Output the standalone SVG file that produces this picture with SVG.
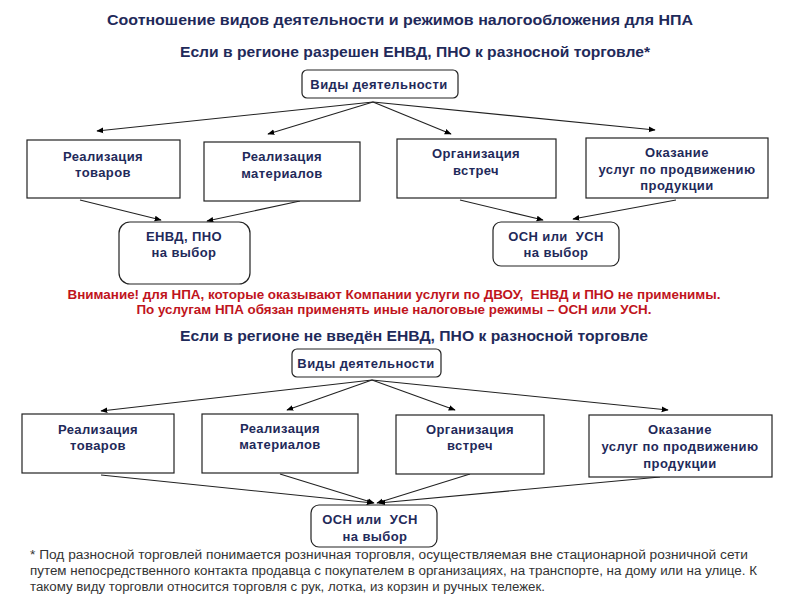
<svg xmlns="http://www.w3.org/2000/svg" width="800" height="600" viewBox="0 0 800 600">
<defs>
<marker id="ah" viewBox="0 0 10 10" refX="9" refY="5" markerWidth="7" markerHeight="7" orient="auto" markerUnits="userSpaceOnUse">
<path d="M0,1 L10,5 L0,9 z" fill="#000"/>
</marker>
<style>
.t{font-family:"Liberation Sans",Arial,sans-serif;font-weight:bold;fill:#1f2a5a;text-anchor:middle}
.h{font-size:15px}
.n{font-size:13px;letter-spacing:0.4px}
.r{font-family:"Liberation Sans",Arial,sans-serif;font-weight:bold;font-size:13px;fill:#c0141c;text-anchor:middle}
.f{font-family:"Liberation Sans",Arial,sans-serif;font-size:12px;fill:#333}
.box{fill:#fff;stroke:#222;stroke-width:1.2}
.c{stroke:#222;stroke-width:1.1;fill:none;marker-end:url(#ah)}
</style>
</defs>
<rect width="800" height="600" fill="#fff"/>
<text class="t h" x="400" y="25" textLength="586" lengthAdjust="spacingAndGlyphs">Соотношение видов деятельности и режимов налогообложения для НПА</text>
<text class="t h" x="415" y="57" textLength="470" lengthAdjust="spacingAndGlyphs">Если в регионе разрешен ЕНВД, ПНО к разносной торговле*</text>

<g id="connectors">
<line class="c" x1="373" y1="102" x2="97" y2="131"/>
<line class="c" x1="373" y1="102" x2="268" y2="134"/>
<line class="c" x1="373" y1="102" x2="451" y2="134"/>
<line class="c" x1="373" y1="102" x2="655" y2="130"/>
<line class="c" x1="80" y1="200" x2="161" y2="220"/>
<line class="c" x1="300" y1="201" x2="207" y2="221"/>
<line class="c" x1="460" y1="200" x2="543" y2="220"/>
<line class="c" x1="676" y1="200" x2="573" y2="219"/>
<line class="c" x1="372" y1="380" x2="101" y2="411"/>
<line class="c" x1="372" y1="380" x2="287" y2="410"/>
<line class="c" x1="372" y1="380" x2="455" y2="410"/>
<line class="c" x1="372" y1="380" x2="668" y2="410"/>
<line class="c" x1="101" y1="475" x2="373" y2="503"/>
<line class="c" x1="280" y1="474" x2="374" y2="503"/>
<line class="c" x1="470" y1="474" x2="377" y2="503"/>
<line class="c" x1="660" y1="477" x2="379" y2="503"/>
</g>

<g id="vidy1"><rect class="box" x="302" y="70" width="156" height="28" rx="5"/><text class="t n" x="379" y="89">Виды деятельности</text></g>
<g id="top1"><rect class="box" x="27" y="140" width="153" height="58"/><text class="t n" x="103" y="161">Реализация</text><text class="t n" x="103" y="177">товаров</text></g>
<g id="top2"><rect class="box" x="204" y="142" width="156" height="59"/><text class="t n" x="282" y="161">Реализация</text><text class="t n" x="282" y="178">материалов</text></g>
<g id="top3"><rect class="box" x="397" y="139" width="159" height="59"/><text class="t n" x="476" y="158">Организация</text><text class="t n" x="476" y="175">встреч</text></g>
<g id="top4"><rect class="box" x="586" y="138" width="182" height="60"/><text class="t n" x="677" y="157">Оказание</text><text class="t n" x="677" y="174">услуг по продвижению</text><text class="t n" x="677" y="190">продукции</text></g>
<g id="envd"><rect class="box" x="119" y="222" width="131" height="62" rx="11"/><text class="t n" x="184" y="241">ЕНВД, ПНО</text><text class="t n" x="184" y="257">на выбор</text></g>
<g id="osn1"><rect class="box" x="493" y="222" width="126" height="44" rx="8"/><text class="t n" x="556" y="241">ОСН или&#160; УСН</text><text class="t n" x="556" y="257">на выбор</text></g>

<text class="r" x="394" y="299" textLength="653" lengthAdjust="spacingAndGlyphs">Внимание! для НПА, которые оказывают Компании услуги по ДВОУ,&#160; ЕНВД и ПНО не применимы.</text>
<text class="r" x="394" y="314" textLength="515" lengthAdjust="spacingAndGlyphs">По услугам НПА обязан применять иные налоговые режимы – ОСН или УСН.</text>
<text class="t h" x="414" y="341" textLength="468" lengthAdjust="spacingAndGlyphs">Если в регионе не введён ЕНВД, ПНО к разносной торговле</text>

<g id="vidy2"><rect class="box" x="292" y="349" width="149" height="28" rx="5"/><text class="t n" x="366" y="368">Виды деятельности</text></g>
<g id="bot1"><rect class="box" x="22" y="414" width="152" height="59"/><text class="t n" x="98" y="434">Реализация</text><text class="t n" x="98" y="450">товаров</text></g>
<g id="bot2"><rect class="box" x="202" y="414" width="156" height="59"/><text class="t n" x="280" y="433">Реализация</text><text class="t n" x="280" y="449">материалов</text></g>
<g id="bot3"><rect class="box" x="396" y="415" width="148" height="59"/><text class="t n" x="470" y="434">Организация</text><text class="t n" x="470" y="450">встреч</text></g>
<g id="bot4"><rect class="box" x="589" y="415" width="183" height="62"/><text class="t n" x="680" y="434">Оказание</text><text class="t n" x="680" y="451">услуг по продвижению</text><text class="t n" x="680" y="468">продукции</text></g>
<g id="osn2"><rect class="box" x="311" y="505" width="126" height="42" rx="8"/><text class="t n" x="370" y="524">ОСН или&#160; УСН</text><text class="t n" x="375" y="541">на выбор</text></g>

<text class="f" x="30" y="559" textLength="718" lengthAdjust="spacingAndGlyphs">* Под разносной торговлей понимается розничная торговля, осуществляемая вне стационарной розничной сети</text>
<text class="f" x="30" y="575" textLength="727" lengthAdjust="spacingAndGlyphs">путем непосредственного контакта продавца с покупателем в организациях, на транспорте, на дому или на улице. К</text>
<text class="f" x="30" y="591" textLength="515" lengthAdjust="spacingAndGlyphs">такому виду торговли относится торговля с рук, лотка, из корзин и ручных тележек.</text>
</svg>
